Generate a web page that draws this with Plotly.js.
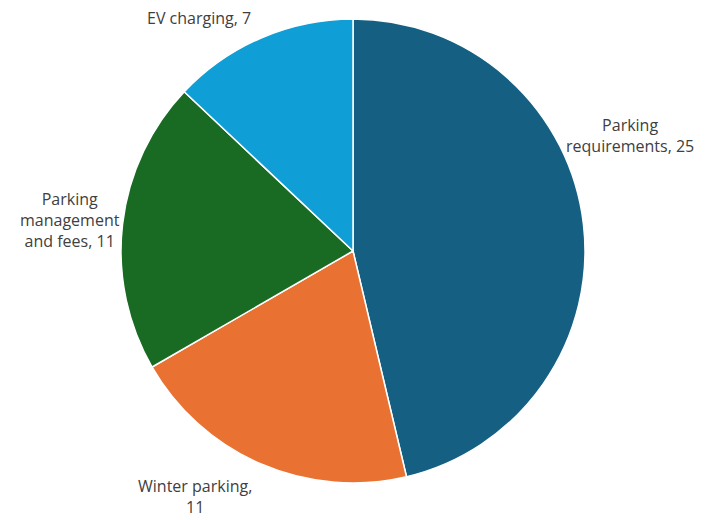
<!DOCTYPE html>
<html>
<head>
<meta charset="utf-8">
<script src="https://cdn.plot.ly/plotly-3.0.1.min.js"></script>
<style>html,body{margin:0;padding:0;background:#fff;}#chart{width:710px;height:520px;}</style>
</head>
<body>
<div id="chart"></div>
<script>
const categories = ["Parking requirements", "Winter parking", "Parking management and fees", "EV charging"];
const wrappedLabels = ["Parking<br>requirements", "Winter parking,<br>", "Parking<br>management<br>and fees", "EV charging"];
const values = [25, 11, 11, 7];
const colors = ["#156082", "#E97132", "#196B24", "#0F9ED5"];

const W = 710, H = 520;
// label block centres in pixels (layout only)
const labelPos = [[630, 136], [195, 496], [70, 220], [199, 18]];

const annotations = wrappedLabels.map((lab, i) => ({
  xref: "paper", yref: "paper",
  x: labelPos[i][0] / W, y: 1 - labelPos[i][1] / H,
  xanchor: "center", yanchor: "middle",
  text: (lab.endsWith("<br>") ? lab : lab + ", ") + values[i],
  showarrow: false, align: "center",
  font: {family: "Open Sans, sans-serif", size: 16, color: "#404040"}
}));

Plotly.newPlot("chart", [{
  type: "pie",
  labels: categories,
  values: values,
  textinfo: "none",
  sort: false,
  direction: "clockwise",
  rotation: 0,
  domain: {x: [121 / W, 585 / W], y: [37 / H, 501 / H]},
  marker: {colors: colors, line: {color: "#ffffff", width: 1.5}},
  hoverinfo: "label+value"
}], {
  width: W, height: H,
  margin: {l: 0, r: 0, t: 0, b: 0},
  showlegend: false,
  annotations: annotations,
  paper_bgcolor: "#ffffff",
  plot_bgcolor: "#ffffff"
}, {displayModeBar: false, staticPlot: true});
</script>
</body>
</html>
